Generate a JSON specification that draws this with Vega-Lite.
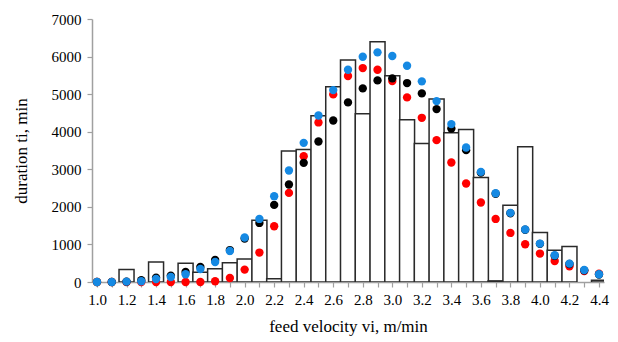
{
  "$schema": "https://vega.github.io/schema/vega-lite/v6.json",
  "width": 512,
  "height": 263,
  "autosize": {"type": "none"},
  "padding": {"left": 92, "top": 19, "right": 14, "bottom": 60},
  "background": "white",
  "config": {
    "view": {"stroke": null},
    "font": "Liberation Serif",
    "style": {"guide-label": {"font": "Liberation Serif", "fontSize": 15}, "guide-title": {"font": "Liberation Serif", "fontSize": 17}},
    "axis": {
      "grid": false,
      "labelFont": "Liberation Serif",
      "titleFont": "Liberation Serif",
      "labelFontSize": 15,
      "titleFontSize": 17,
      "labelColor": "#000000",
      "titleColor": "#000000",
      "titleFontWeight": "normal",
      "domainColor": "#a0a0a0",
      "tickColor": "#a0a0a0",
      "domainWidth": 1.5,
      "tickWidth": 1.2,
      "tickSize": 5
    }
  },
  "data": {
    "values": [
      {"v": 1.0, "bar": 0, "black": 0, "red": 0, "blue": 0},
      {"v": 1.1, "bar": 0, "black": 0, "red": 0, "blue": 0},
      {"v": 1.2, "bar": 330, "black": 10, "red": 0, "blue": 10},
      {"v": 1.3, "bar": 0, "black": 50, "red": 0, "blue": 20},
      {"v": 1.4, "bar": 530, "black": 117, "red": 0, "blue": 80},
      {"v": 1.5, "bar": 0, "black": 170, "red": 0, "blue": 133},
      {"v": 1.6, "bar": 500, "black": 266, "red": 0, "blue": 205},
      {"v": 1.7, "bar": 260, "black": 400, "red": 0, "blue": 346},
      {"v": 1.8, "bar": 355, "black": 586, "red": 20, "blue": 533},
      {"v": 1.9, "bar": 515, "black": 850, "red": 107, "blue": 826},
      {"v": 2.0, "bar": 610, "black": 1156, "red": 330, "blue": 1183},
      {"v": 2.1, "bar": 1644, "black": 1572, "red": 783, "blue": 1679},
      {"v": 2.2, "bar": 85, "black": 2052, "red": 1484, "blue": 2284},
      {"v": 2.3, "bar": 3490, "black": 2595, "red": 2372, "blue": 2968},
      {"v": 2.4, "bar": 3528, "black": 3171, "red": 3349, "blue": 3704},
      {"v": 2.5, "bar": 4424, "black": 3741, "red": 4247, "blue": 4433},
      {"v": 2.6, "bar": 5197, "black": 4300, "red": 4993, "blue": 5108},
      {"v": 2.7, "bar": 5907, "black": 4780, "red": 5482, "blue": 5649},
      {"v": 2.8, "bar": 4477, "black": 5153, "red": 5694, "blue": 5995},
      {"v": 2.9, "bar": 6395, "black": 5366, "red": 5650, "blue": 6112},
      {"v": 3.0, "bar": 5489, "black": 5420, "red": 5348, "blue": 6014},
      {"v": 3.1, "bar": 4317, "black": 5295, "red": 4913, "blue": 5756},
      {"v": 3.2, "bar": 3688, "black": 5020, "red": 4370, "blue": 5340},
      {"v": 3.3, "bar": 4868, "black": 4602, "red": 3776, "blue": 4815},
      {"v": 3.4, "bar": 3970, "black": 4087, "red": 3181, "blue": 4202},
      {"v": 3.5, "bar": 4060, "black": 3509, "red": 2621, "blue": 3581},
      {"v": 3.6, "bar": 2781, "black": 2910, "red": 2115, "blue": 2931},
      {"v": 3.7, "bar": 30, "black": 2350, "red": 1679, "blue": 2363},
      {"v": 3.8, "bar": 2044, "black": 1830, "red": 1306, "blue": 1839},
      {"v": 3.9, "bar": 3597, "black": 1390, "red": 1005, "blue": 1396},
      {"v": 4.0, "bar": 1316, "black": 1015, "red": 757, "blue": 1023},
      {"v": 4.1, "bar": 845, "black": 700, "red": 560, "blue": 711},
      {"v": 4.2, "bar": 943, "black": 480, "red": 418, "blue": 490},
      {"v": 4.3, "bar": 0, "black": 310, "red": 293, "blue": 320},
      {"v": 4.4, "bar": 45, "black": 200, "red": 224, "blue": 205}
    ]
  },
  "encoding": {
    "x": {
      "field": "v",
      "type": "quantitative",
      "scale": {"domain": [1.0, 4.4], "nice": false, "zero": false},
      "axis": {
        "title": "feed velocity vi, m/min",
        "values": [1.0, 1.1, 1.2, 1.3, 1.4, 1.5, 1.6, 1.7, 1.8, 1.9, 2.0, 2.1, 2.2, 2.3, 2.4, 2.5, 2.6, 2.7, 2.8, 2.9, 3.0, 3.1, 3.2, 3.3, 3.4, 3.5, 3.6, 3.7, 3.8, 3.9, 4.0, 4.1, 4.2, 4.3, 4.4],
        "labelExpr": "round(datum.value * 10) % 2 == 0 ? format(datum.value, '.1f') : ''",
        "labelFont": "Liberation Serif",
        "titleFont": "Liberation Serif",
        "labelPadding": 5,
        "titlePadding": 11,
        "labelFlush": false,
        "labelOverlap": false
      }
    }
  },
  "layer": [
    {
      "transform": [{"filter": "datum.bar > 0"}],
      "mark": {"type": "bar", "size": 15, "fill": "white", "stroke": "#2a2a2a", "strokeWidth": 1.5, "clip": true},
      "encoding": {
        "y": {
          "field": "bar",
          "type": "quantitative",
          "scale": {"domain": [0, 7000], "nice": false},
          "title": "duration ti, min",
          "axis": {"values": [0, 1000, 2000, 3000, 4000, 5000, 6000, 7000], "format": "d", "labelOverlap": false, "labelFont": "Liberation Serif", "titleFont": "Liberation Serif", "labelPadding": 6, "titlePadding": 21}
        }
      }
    },
    {
      "transform": [{"fold": ["red", "black", "blue"], "as": ["series", "value"]}],
      "mark": {"type": "circle", "size": 70, "opacity": 1},
      "encoding": {
        "y": {
          "field": "value",
          "type": "quantitative",
          "title": "duration ti, min",
          "axis": {"values": [0, 1000, 2000, 3000, 4000, 5000, 6000, 7000], "format": "d", "labelOverlap": false, "labelFont": "Liberation Serif", "titleFont": "Liberation Serif", "labelPadding": 6, "titlePadding": 21}
        },
        "color": {
          "field": "series",
          "type": "nominal",
          "scale": {"domain": ["red", "black", "blue"], "range": ["#ff0000", "#000000", "#1589e3"]},
          "legend": null
        }
      }
    }
  ]
}
